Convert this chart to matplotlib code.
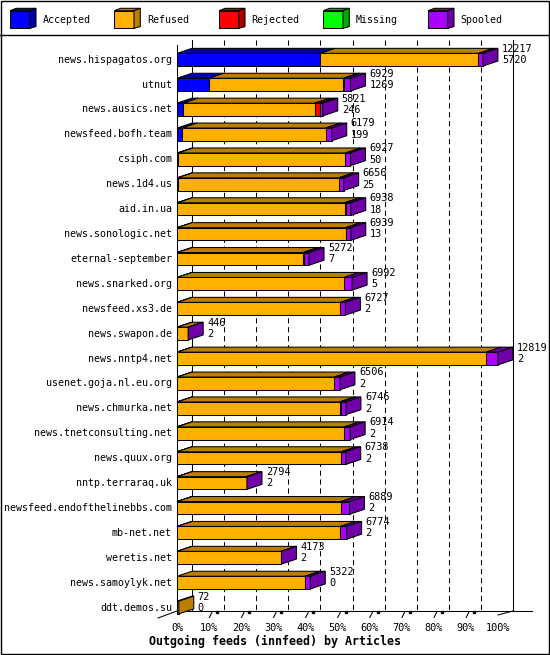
import matplotlib
matplotlib.use("Agg")
import matplotlib.pyplot as plt
from matplotlib.patches import Polygon, Rectangle

hosts = ["news.hispagatos.org", "utnut", "news.ausics.net", "newsfeed.bofh.team",
         "csiph.com", "news.1d4.us", "aid.in.ua", "news.sonologic.net",
         "eternal-september", "news.snarked.org", "newsfeed.xs3.de", "news.swapon.de",
         "news.nntp4.net", "usenet.goja.nl.eu.org", "news.chmurka.net",
         "news.tnetconsulting.net", "news.quux.org", "nntp.terraraq.uk",
         "newsfeed.endofthelinebbs.com", "mb-net.net", "weretis.net",
         "news.samoylyk.net", "ddt.demos.su"]
offered = [12217, 6929, 5821, 6179, 6927, 6656, 6938, 6939, 5272, 6992, 6727, 446,
           12819, 6506, 6746, 6914, 6738, 2794, 6889, 6774, 4173, 5322, 72]
accepted = [5720, 1269, 246, 199, 50, 25, 18, 13, 7, 5, 2, 2,
            2, 2, 2, 2, 2, 2, 2, 2, 2, 0, 0]
refused = [6317, 5380, 5255, 5740, 6677, 6431, 6680, 6726, 5025, 6667, 6525, 434,
           12352, 6279, 6494, 6687, 6561, 2777, 6542, 6522, 4156, 5112, 72]
rejected = [0, 40, 200, 0, 0, 0, 40, 0, 40, 0, 0, 0,
            0, 0, 40, 0, 0, 0, 0, 0, 0, 0, 0]
missing = [0] * 23
spooled = [180, 240, 120, 240, 200, 200, 200, 200, 200, 320, 200, 10,
           465, 225, 210, 225, 175, 15, 345, 250, 15, 210, 0]

names = ["Accepted", "Refused", "Rejected", "Missing", "Spooled"]
front = ["#0000ff", "#ffb000", "#ff0000", "#00ff00", "#aa00ff"]
shade = ["#0000a8", "#bb7f00", "#aa0000", "#00aa00", "#7000a8"]

W, H = 550, 655
MONO = "DejaVu Sans Mono"
FS = 7.4
LW = 0.75

# pixel layout of the plot (front plane 0% .. 100%)
X0, XR = 177, 532
YT, YB = 40, 618
PPP = 3.21            # pixels per percent
ROW0, PITCH = 59.7, 24.9


def row_y(py):
    return (py - ROW0) / PITCH


fig = plt.figure(figsize=(W / 100, H / 100), dpi=100)
ax = fig.add_axes([X0 / W, 1 - YB / H, (XR - X0) / W, (YB - YT) / H])
ax.set_xlim(0, (XR - X0) / PPP)
ax.set_ylim(row_y(YB), row_y(YT))
ax.axis("off")

DX = 15 / PPP
DY = 5 / PITCH
BH = 6.35 / PITCH
top, floor = row_y(YT), row_y(611)

# back wall grid
for k in range(1, 10):
    ax.plot([10 * k + DX] * 2, [top, floor], color="black", lw=LW,
            dashes=(5, 3.6), zorder=1)
ax.plot([DX, DX], [top, floor], color="black", lw=LW, zorder=1)
ax.plot([100 + DX] * 2, [top, floor], color="black", lw=LW, zorder=1)
ax.plot([0, 0], [row_y(45), row_y(614)], color="black", lw=LW, zorder=1)
ax.plot([0, (XR - X0) / PPP], [floor, floor], color="black", lw=LW, zorder=1,
        clip_on=False)
ax.plot([-19 / PPP, 0], [row_y(618), floor], color="black", lw=LW, clip_on=False)
ax.plot([100, 100 + DX], [row_y(615), floor], color="black", lw=LW, clip_on=False)
for k in range(1, 10):
    x = 10 * k
    ax.plot([x, x + 3 / PPP], [row_y(618), row_y(612)], color="black", lw=LW)
    ax.plot([x + 8 / PPP], [row_y(611.5)], marker="s", ms=2, color="black")
for k in range(0, 11):
    ax.text(10 * k, row_y(628), f"{10 * k}%", ha="center", va="center",
            family=MONO, size=FS, clip_on=False)

# bars
vmax = max(offered)
for i, host in enumerate(hosts):
    vals = [accepted[i], refused[i], rejected[i], missing[i], spooled[i]]
    y0, y1 = i - BH, i + BH
    x = 0.0
    last = 1
    for j, v in enumerate(vals):
        if v <= 0:
            continue
        w = v / vmax * 100
        ax.add_patch(Rectangle((x, y0), w, y1 - y0, facecolor=front[j],
                               edgecolor="black", lw=LW, zorder=3, clip_on=False))
        ax.add_patch(Polygon([(x, y0), (x + w, y0), (x + w + DX, y0 - DY),
                              (x + DX, y0 - DY)], closed=True, facecolor=shade[j],
                             edgecolor="black", lw=LW, zorder=3, clip_on=False))
        x += w
        last = j
    ax.add_patch(Polygon([(x, y0), (x + DX, y0 - DY), (x + DX, y1 - DY), (x, y1)],
                         closed=True, facecolor=shade[last], edgecolor="black",
                         lw=LW, zorder=3, clip_on=False))
    ax.text(-5 / PPP, i, host, ha="right", va="center", family=MONO, size=7.2,
            clip_on=False)
    ax.text(x + DX + 4 / PPP, i - 0.44, str(offered[i]), ha="left", va="center",
            family=MONO, size=FS, clip_on=False, zorder=4)
    ax.text(x + DX + 4 / PPP, i + 0.02, str(accepted[i]), ha="left", va="center",
            family=MONO, size=FS, clip_on=False, zorder=4)

# frame, legend and title in pixel space
lax = fig.add_axes([0, 0, 1, 1], zorder=-1)
lax.set_xlim(0, W)
lax.set_ylim(H, 0)
lax.axis("off")
lax.add_patch(Rectangle((0.5, 0.5), W - 1.5, H - 1.5, fill=False,
                        edgecolor="black", lw=1))
lax.plot([0, W], [35, 35], color="black", lw=1)

legend_x = [10, 114.3, 219, 323.3, 428]
for j, name in enumerate(names):
    bx = legend_x[j]
    lax.add_patch(Rectangle((bx, 10.7), 19.7, 17.6, facecolor=front[j],
                            edgecolor="black", lw=LW))
    lax.add_patch(Polygon([(bx, 10.7), (bx + 19.7, 10.7), (bx + 26, 8.3), (bx + 6.3, 8.3)],
                          closed=True, facecolor=shade[j], edgecolor="black", lw=LW))
    lax.add_patch(Polygon([(bx + 19.7, 10.7), (bx + 26, 8.3), (bx + 26, 26.6),
                           (bx + 19.7, 28.3)], closed=True, facecolor=shade[j],
                          edgecolor="black", lw=LW))
    lax.text(bx + 32.5, 20, name, ha="left", va="center", family=MONO, size=7.2)

lax.text(W / 2, 641.7, "Outgoing feeds (innfeed) by Articles", ha="center",
         va="center", family=MONO, weight="bold", size=8.4)

fig.savefig("out.png", dpi=100)
